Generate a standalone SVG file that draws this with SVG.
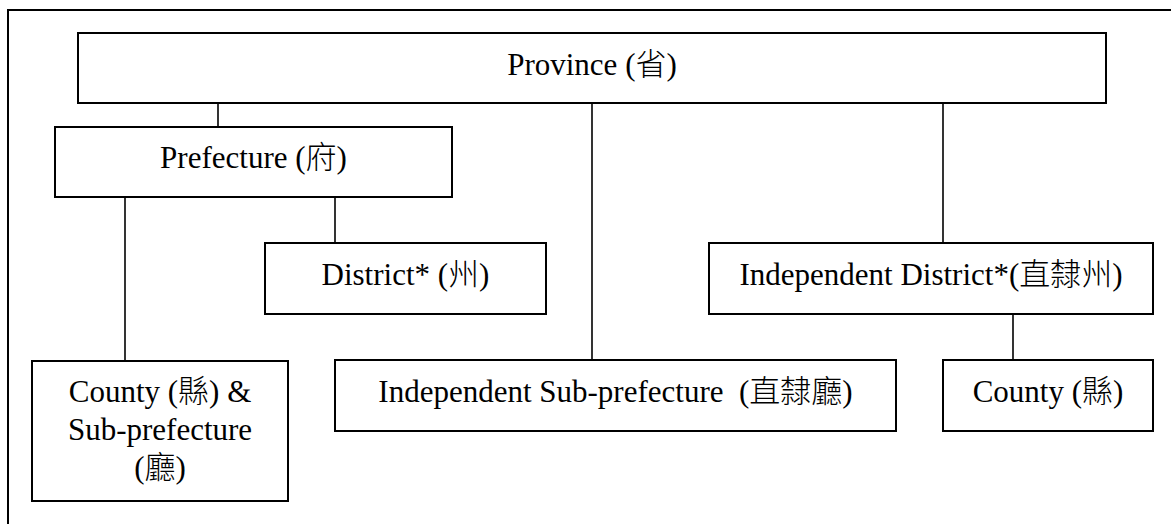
<svg xmlns="http://www.w3.org/2000/svg" width="1171" height="524" viewBox="0 0 1171 524">
<style>
  .box { fill: #ffffff; stroke: #000000; stroke-width: 2; }
  .frame { fill: none; stroke: #000000; stroke-width: 2; }
  .conn { stroke: #000000; stroke-width: 1.6; fill: none; }
  .lbl { font-family: "Liberation Serif", "Noto Sans CJK TC", serif; font-size: 31px; fill: #000000; text-anchor: middle; }
  .cjk { font-family: "Noto Sans CJK TC", "Noto Sans CJK SC", sans-serif; font-weight: 300; }
</style>
<rect x="0" y="0" width="1171" height="524" fill="#ffffff"/>
<rect class="frame" x="8" y="10" width="1180" height="530"/>
<g id="connectors">
  <line class="conn" x1="218" y1="103" x2="218" y2="127"/>
  <line class="conn" x1="592" y1="103" x2="592" y2="360"/>
  <line class="conn" x1="943" y1="103" x2="943" y2="243"/>
  <line class="conn" x1="125" y1="197" x2="125" y2="361"/>
  <line class="conn" x1="335" y1="197" x2="335" y2="243"/>
  <line class="conn" x1="1013" y1="314" x2="1013" y2="360"/>
</g>
<g id="province">
  <rect class="box" x="78" y="33" width="1028" height="70"/>
  <text class="lbl" x="592" y="75">Province (<tspan class="cjk">省</tspan>)</text>
</g>
<g id="prefecture">
  <rect class="box" x="55" y="127" width="397" height="70"/>
  <text class="lbl" x="253.5" y="168">Prefecture (<tspan class="cjk">府</tspan>)</text>
</g>
<g id="district">
  <rect class="box" x="265" y="243" width="281" height="71"/>
  <text class="lbl" x="405.5" y="285">District* (<tspan class="cjk">州</tspan>)</text>
</g>
<g id="independent-district">
  <rect class="box" x="709" y="243" width="444" height="71"/>
  <text class="lbl" x="931" y="285">Independent District*(<tspan class="cjk">直隸州</tspan>)</text>
</g>
<g id="county-subprefecture">
  <rect class="box" x="32" y="361" width="256" height="140"/>
  <text class="lbl" x="160" y="402">County (<tspan class="cjk">縣</tspan>) &amp;</text>
  <text class="lbl" x="160" y="440">Sub-prefecture</text>
  <text class="lbl" x="160" y="478">(<tspan class="cjk">廳</tspan>)</text>
</g>
<g id="independent-subprefecture">
  <rect class="box" x="335" y="360" width="561" height="71"/>
  <text class="lbl" x="615.5" y="402" xml:space="preserve">Independent Sub-prefecture  (<tspan class="cjk">直隸廳</tspan>)</text>
</g>
<g id="county">
  <rect class="box" x="943" y="360" width="210" height="71"/>
  <text class="lbl" x="1048" y="402">County (<tspan class="cjk">縣</tspan>)</text>
</g>
</svg>
